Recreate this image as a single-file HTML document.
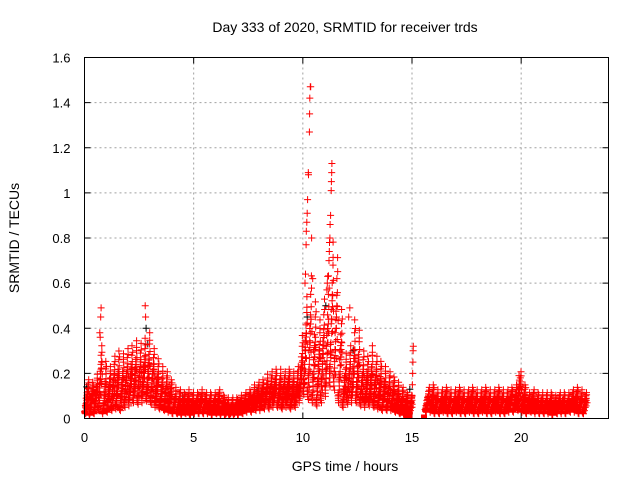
<!DOCTYPE html>
<html><head><meta charset="utf-8"><style>
body{margin:0;background:#fff;}
svg{display:block;font-family:"Liberation Sans",sans-serif;}
</style></head><body>
<svg id="chart" width="640" height="480" viewBox="0 0 640 480">
<text x="345" y="32" font-size="14" text-anchor="middle">Day 333 of 2020, SRMTID for receiver trds</text>
<text transform="translate(19,238) rotate(-90)" font-size="14" text-anchor="middle">SRMTID / TECUs</text>
<text x="345" y="471" font-size="14" text-anchor="middle">GPS time / hours</text>
<g id="grid"></g>
<g id="ticks"></g>
<g id="marks"></g>
<rect x="84.5" y="57.5" width="524" height="361" fill="none" stroke="#000" stroke-width="1"/>
</svg>
<script>
const xTicks=[0,5,10,15,20];
const yTicks=[0,0.2,0.4,0.6,0.8,1,1.2,1.4,1.6];
const yTickLabels=["0","0.2","0.4","0.6","0.8","1","1.2","1.4","1.6"];
const binStart=0, binStep=0.2;
const sLow=[.03,.02,.03,.05,.03,.04,.05,.06,.05,.07,.08,.10,.09,.10,.11,.09,.07,.06,.05,.04,.03,.03,.02,.03,.02,.03,.03,.03,.03,.02,.03,.02,.02,.02,.02,.02,.03,.04,.04,.05,.05,.06,.06,.07,.07,.06,.07,.06,.07,.10,.15,.12,.10,.08,.10,.14,.20,.18,.10,.07,.09,.10,.10,.08,.07,.08,.07,.06,.05,.05,.05,.04,.03,.02,.02,null,null,null,.04,.04,.03,.03,.04,.03,.03,.04,.03,.03,.04,.03,.03,.04,.03,.03,.04,.03,.03,.04,.04,.05,.04,.03,.04,.03,.03,.03,.03,.02,.03,.03,.03,.04,.04,.03,.03];
const sA=[.06,.05,.07,.10,.06,.08,.10,.11,.10,.12,.13,.15,.14,.15,.16,.13,.11,.09,.08,.07,.05,.05,.04,.05,.04,.05,.05,.05,.05,.04,.05,.04,.03,.03,.03,.04,.05,.06,.06,.07,.08,.09,.09,.10,.10,.09,.10,.09,.10,.14,.22,.20,.18,.15,.18,.22,.30,.28,.18,.12,.13,.15,.15,.12,.11,.12,.11,.10,.09,.08,.07,.06,.05,.04,.03,null,null,null,.06,.06,.05,.05,.06,.05,.05,.06,.05,.05,.06,.05,.05,.06,.05,.05,.06,.05,.05,.06,.06,.08,.06,.05,.06,.05,.05,.05,.05,.04,.05,.05,.05,.06,.06,.05,.05];
const sB=[.09,.08,.10,.15,.10,.12,.14,.15,.14,.16,.17,.19,.18,.20,.20,.17,.14,.12,.11,.09,.07,.07,.06,.07,.06,.06,.07,.07,.06,.06,.07,.05,.05,.04,.05,.05,.06,.07,.08,.09,.10,.11,.12,.13,.13,.12,.13,.12,.13,.19,.30,.30,.26,.22,.27,.32,.42,.38,.26,.16,.17,.20,.20,.16,.15,.16,.15,.13,.12,.11,.10,.08,.07,.06,.05,null,null,null,.08,.08,.07,.07,.08,.07,.07,.08,.07,.07,.08,.07,.07,.08,.07,.07,.08,.07,.07,.08,.08,.11,.08,.07,.08,.06,.07,.06,.06,.06,.06,.07,.06,.07,.08,.07,.07];
const sC=[.12,.11,.13,.22,.15,.16,.18,.20,.19,.21,.22,.24,.23,.25,.26,.22,.18,.16,.14,.12,.09,.09,.08,.09,.08,.08,.09,.08,.08,.08,.09,.07,.06,.06,.06,.07,.08,.09,.10,.11,.12,.14,.15,.16,.16,.15,.16,.15,.16,.25,.38,.42,.34,.30,.36,.42,.55,.50,.34,.20,.22,.28,.26,.20,.19,.21,.19,.17,.15,.14,.13,.11,.09,.08,.07,null,null,null,.10,.10,.09,.09,.10,.09,.09,.10,.09,.09,.10,.09,.09,.10,.09,.09,.10,.09,.09,.10,.10,.14,.10,.08,.09,.08,.08,.08,.08,.07,.08,.08,.08,.09,.10,.09,.08];
const sHigh=[.15,.14,.17,.28,.22,.20,.24,.26,.25,.27,.28,.30,.29,.31,.33,.27,.23,.20,.18,.15,.12,.11,.10,.11,.10,.10,.11,.10,.10,.10,.11,.09,.08,.08,.08,.09,.10,.11,.13,.14,.15,.17,.18,.19,.19,.18,.19,.18,.20,.32,.47,.55,.45,.38,.46,.55,.68,.62,.42,.25,.28,.38,.34,.26,.24,.28,.24,.22,.20,.18,.16,.14,.12,.10,.09,null,null,null,.12,.13,.11,.11,.12,.11,.11,.12,.11,.11,.12,.11,.11,.12,.11,.11,.12,.11,.11,.12,.13,.18,.13,.10,.11,.10,.10,.10,.10,.09,.10,.10,.10,.11,.12,.11,.10];
const extraT=[0.7,0.72,0.74,0.76,0.8,2.78,2.8,10.1,10.12,10.15,10.16,10.18,10.2,10.22,10.25,10.26,10.3,10.31,10.32,10.34,10.36,10.4,10.45,11.1,11.12,11.14,11.2,11.21,11.22,11.24,11.25,11.27,11.3,11.31,11.32,11.33,12.1,12.15,15.0,15.01,15.02,15.03,15.04,15.05,15.06,19.9,19.92];
const extraV=[0.38,0.36,0.45,0.49,0.25,0.50,0.45,0.60,0.64,0.77,0.83,0.87,0.91,0.97,1.09,1.08,1.27,1.35,1.42,1.47,1.47,0.80,0.62,0.57,0.60,0.63,0.70,0.74,0.78,0.80,0.86,0.90,1.01,1.05,1.09,1.13,0.45,0.49,0.05,0.10,0.15,0.20,0.25,0.30,0.32,0.19,0.17];
const blackT=[2.82,2.9,10.2,11.05,12.3,14.9,0.1,4.5,7.9];
const blackV=[0.40,0.33,0.45,0.50,0.30,0.13,0.14,0.10,0.12];
const zeroT=[14.78,14.88,15.55];
const zeroV=[0,0,0];
const X0=84.5,X1=608.5,Y0=418.5,Y1=57.5,XMAX=24,YMAX=1.6;
function sx(t){return X0+(t/XMAX)*(X1-X0);}
function sy(v){return Y0-(v/YMAX)*(Y0-Y1);}
const NS="http://www.w3.org/2000/svg";
function mk(tag,attrs,parent){const e=document.createElementNS(NS,tag);for(const k in attrs)e.setAttribute(k,attrs[k]);parent.appendChild(e);return e;}
const grid=document.getElementById('grid'),ticks=document.getElementById('ticks'),marks=document.getElementById('marks');
xTicks.forEach((t,i)=>{
  const x=sx(t);
  if(t>0){const g=mk('line',{x1:x,x2:x,y1:Y1,y2:Y0,stroke:'#a0a0a0','stroke-dasharray':'2,3'},grid);
  
  }
  mk('line',{x1:x,x2:x,y1:Y0,y2:Y0-6,stroke:'#000'},ticks);
  mk('line',{x1:x,x2:x,y1:Y1,y2:Y1+6,stroke:'#000'},ticks);
  const l=mk('text',{x:x,y:442,'font-size':13,'text-anchor':'middle'},ticks);l.textContent=String(t);
  
  
});
yTicks.forEach((v,i)=>{
  const y=sy(v);
  if(v>0&&v<YMAX){const g=mk('line',{x1:X0,x2:X1,y1:y,y2:y,stroke:'#a0a0a0','stroke-dasharray':'2,3'},grid);
  
  }
  mk('line',{x1:X0,x2:X0+6,y1:y,y2:y,stroke:'#000'},ticks);
  mk('line',{x1:X1,x2:X1-6,y1:y,y2:y,stroke:'#000'},ticks);
  const l=mk('text',{x:X0-14,y:y+5,'font-size':13,'text-anchor':'end'},ticks);l.textContent=yTickLabels[i];
  
  
});
function cross(t,v){if(v===null)return '';const x=sx(t),y=sy(v);return `M${(x-3.5).toFixed(1)} ${y.toFixed(1)}h7M${x.toFixed(1)} ${(y-3.5).toFixed(1)}v7`;}
let dBlack='';blackT.forEach((t,i)=>{dBlack+=cross(t,blackV[i]);});
const pb=mk('path',{d:dBlack,stroke:'#000','stroke-width':1,fill:'none'},marks);


let dRed='';
const series=[sLow,sA,sB,sC,sHigh];
const spreadMul=[1,0.8,1.15,0.9,1.05,0.7];
series.forEach((s,k)=>{s.forEach((v,i)=>{if(v===null)return;
  spreadMul.forEach((m,j)=>{const t=binStart+i*binStep+k*0.04+j*0.007+((i+j)%3)*0.01;dRed+=cross(t,+(v*(j%2?m:(k%2?m*0.95:m))).toFixed(3));});});});
extraT.forEach((t,i)=>{dRed+=cross(t,extraV[i]);});
const pr=mk('path',{d:dRed,stroke:'#ff0000','stroke-width':1,fill:'none'},marks);


zeroT.forEach((t,i)=>{const r=mk('rect',{x:sx(t)-3,y:sy(zeroV[i])-4,width:6,height:4,fill:'#ff0000'},marks);

});
</script>
</body></html>
